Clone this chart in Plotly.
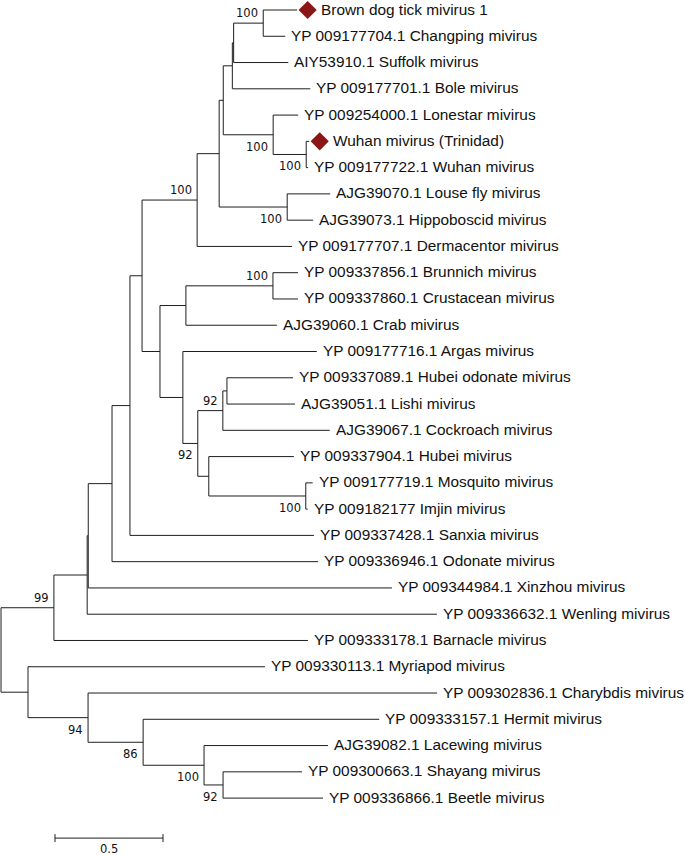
import plotly.graph_objects as go

# ---------------- Tree data (pre-order; children listed top-to-bottom) ----------------
node_ids = [
    "root", "n99", "nB", "nC", "nD", "nE", "nF", "nG", "nH", "nI", "nJ", "nK", "nL",
    "Brown dog tick mivirus 1", "YP 009177704.1 Changping mivirus",
    "AIY53910.1 Suffolk mivirus", "YP 009177701.1 Bole mivirus",
    "nM", "YP 009254000.1 Lonestar mivirus", "nN",
    "Wuhan mivirus (Trinidad)", "YP 009177722.1 Wuhan mivirus",
    "nO", "AJG39070.1 Louse fly mivirus", "AJG39073.1 Hippoboscid mivirus",
    "YP 009177707.1 Dermacentor mivirus",
    "nP", "nQ", "nR", "YP 009337856.1 Brunnich mivirus", "YP 009337860.1 Crustacean mivirus",
    "AJG39060.1 Crab mivirus",
    "nS", "YP 009177716.1 Argas mivirus", "nT", "nU", "nV",
    "YP 009337089.1 Hubei odonate mivirus", "AJG39051.1 Lishi mivirus",
    "AJG39067.1 Cockroach mivirus",
    "nW", "YP 009337904.1 Hubei mivirus", "nX",
    "YP 009177719.1 Mosquito mivirus", "YP 009182177 Imjin mivirus",
    "YP 009337428.1 Sanxia mivirus", "YP 009336946.1 Odonate mivirus",
    "YP 009344984.1 Xinzhou mivirus", "YP 009336632.1 Wenling mivirus",
    "YP 009333178.1 Barnacle mivirus",
    "nY", "YP 009330113.1 Myriapod mivirus", "nZ", "YP 009302836.1 Charybdis mivirus",
    "nAA", "YP 009333157.1 Hermit mivirus", "nAB", "AJG39082.1 Lacewing mivirus",
    "nAC", "YP 009300663.1 Shayang mivirus", "YP 009336866.1 Beetle mivirus",
]
node_parents = [
    None, "root", "n99", "nB", "nC", "nD", "nE", "nF", "nG", "nH", "nI", "nJ", "nK",
    "nL", "nL",
    "nK", "nJ",
    "nI", "nM", "nM",
    "nN", "nN",
    "nH", "nO", "nO",
    "nG",
    "nF", "nP", "nQ", "nR", "nR",
    "nQ",
    "nP", "nS", "nS", "nT", "nU",
    "nV", "nV",
    "nU",
    "nT", "nW", "nW",
    "nX", "nX",
    "nE", "nD",
    "nC", "nB",
    "n99",
    "root", "nY", "nY", "nZ",
    "nZ", "nAA", "nAA", "nAB",
    "nAB", "nAC", "nAC",
]
branch_lengths = [
    0.0, 0.245, 0.154, 0.005, 0.110, 0.083, 0.056, 0.255, 0.102, 0.019, 0.042, 0.006, 0.137,
    0.157, 0.102,
    0.253, 0.361,
    0.231, 0.116, 0.153,
    0.014, 0.009,
    0.315, 0.199, 0.120,
    0.440,
    0.083, 0.120, 0.403, 0.116, 0.116,
    0.421,
    0.106, 0.620, 0.069, 0.116, 0.019,
    0.306, 0.315,
    0.495,
    0.051, 0.394, 0.449,
    0.032, 0.009,
    0.852, 0.954,
    1.406, 1.619,
    1.176,
    0.125, 1.097, 0.278, 1.616,
    0.255, 1.093, 0.282, 0.574,
    0.088, 0.366, 0.463,
]
bootstrap_nodes = ["n99", "nG", "nL", "nM", "nN", "nO", "nR", "nT", "nU", "nX",
                   "nZ", "nAA", "nAB", "nAC"]
bootstrap_values = [99, 100, 100, 100, 100, 100, 100, 92, 92, 100,
                    94, 86, 100, 92]
highlighted_tips = ["Brown dog tick mivirus 1", "Wuhan mivirus (Trinidad)"]
scale_bar_length = 0.5

# ---------------- Layout computation ----------------
children = {n: [] for n in node_ids}
parent_of = dict(zip(node_ids, node_parents))
bl_of = dict(zip(node_ids, branch_lengths))
for n, p in zip(node_ids, node_parents):
    if p is not None:
        children[p].append(n)

xpos, ypos = {}, {}
leaf_order = []


def place(n, x):
    xpos[n] = x
    if not children[n]:
        ypos[n] = len(leaf_order)
        leaf_order.append(n)
        return
    for c in children[n]:
        place(c, x + bl_of[c])
    ypos[n] = (ypos[children[n][0]] + ypos[children[n][-1]]) / 2


place("root", 0.0)
n_leaves = len(leaf_order)

# pixel geometry of the frame
W, H = 685, 855
PX_PER_UNIT = 216.0
ROOT_PX = 1.0
TOP_PX, STEP_PX = 10.0, 26.27

bx, by = [], []
for n in node_ids:
    p = parent_of[n]
    if p is not None:
        bx += [xpos[p], xpos[n], None]
        by += [ypos[n], ypos[n], None]
    if children[n]:
        bx += [xpos[n], xpos[n], None]
        by += [ypos[children[n][0]], ypos[children[n][-1]], None]

LINE = "#1e1e1e"
fig = go.Figure()
fig.add_trace(go.Scatter(x=bx, y=by, mode="lines",
                         line=dict(color=LINE, width=1), hoverinfo="skip",
                         showlegend=False))

# highlighted tip markers (diamonds)
dia_off = 10.5 / PX_PER_UNIT
fig.add_trace(go.Scatter(
    x=[xpos[t] + dia_off for t in highlighted_tips],
    y=[ypos[t] for t in highlighted_tips],
    mode="markers",
    marker=dict(symbol="diamond", size=14, color="#8b1616", line=dict(width=0)),
    hoverinfo="skip", showlegend=False))

annotations = []
for t in leaf_order:
    shift = 22 if t in highlighted_tips else 4
    annotations.append(dict(
        x=xpos[t], y=ypos[t], text=t, showarrow=False, xanchor="left", yanchor="middle",
        xshift=shift, yshift=1, font=dict(family="Liberation Sans, Arial", size=15.4, color="#111"),
    ))

for n, v in zip(bootstrap_nodes, bootstrap_values):
    p = parent_of[n]
    first = children[p][0] == n
    annotations.append(dict(
        x=xpos[n], y=ypos[n], text=str(v), showarrow=False, xanchor="right", yanchor="middle",
        xshift=-3, yshift=10 if first else -12,
        font=dict(family="DejaVu Sans, Verdana", size=11.5, color="#111"),
    ))

# scale bar
sb_x0 = 54.0 / PX_PER_UNIT
sb_y = (n_leaves - 1) + 40.0 / STEP_PX
cap = 4.0 / STEP_PX
fig.add_trace(go.Scatter(
    x=[sb_x0, sb_x0 + scale_bar_length, None, sb_x0, sb_x0, None,
       sb_x0 + scale_bar_length, sb_x0 + scale_bar_length],
    y=[sb_y, sb_y, None, sb_y - cap, sb_y + cap, None, sb_y - cap, sb_y + cap],
    mode="lines", line=dict(color=LINE, width=1), hoverinfo="skip", showlegend=False))
annotations.append(dict(
    x=sb_x0 + scale_bar_length / 2, y=sb_y, text=str(scale_bar_length), showarrow=False,
    xanchor="center", yanchor="middle", yshift=-11,
    font=dict(family="DejaVu Sans, Verdana", size=11.5, color="#111")))

x_lo = -ROOT_PX / PX_PER_UNIT
x_hi = (W - ROOT_PX) / PX_PER_UNIT
y_top = -TOP_PX / STEP_PX
y_bot = (H - TOP_PX) / STEP_PX

fig.update_layout(
    width=W, height=H,
    margin=dict(l=0, r=0, t=0, b=0),
    paper_bgcolor="white", plot_bgcolor="white",
    xaxis=dict(range=[x_lo, x_hi], visible=False, fixedrange=True),
    yaxis=dict(range=[y_bot, y_top], visible=False, fixedrange=True),
    annotations=annotations,
)

fig.write_html(
    "out.html",
    config={"displayModeBar": False},
    post_script="document.body.style.margin='0';document.body.style.overflow='hidden';",
)
